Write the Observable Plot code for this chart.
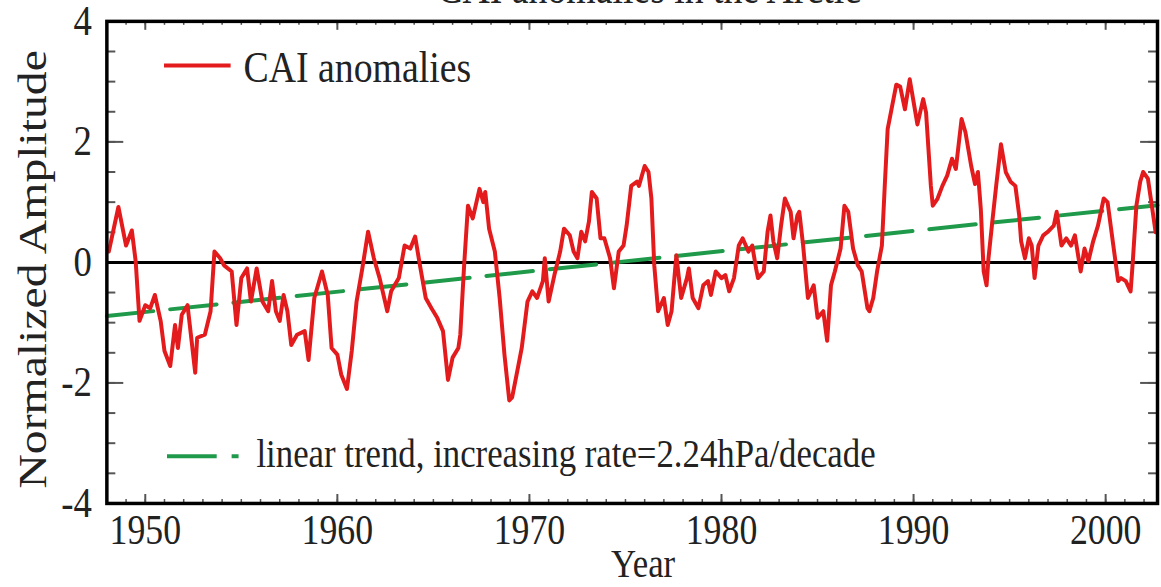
<!DOCTYPE html>
<html><head><meta charset="utf-8">
<script src="https://cdn.jsdelivr.net/npm/d3@7"></script>
<script src="https://cdn.jsdelivr.net/npm/@observablehq/plot@0.6"></script>
<style>
html,body{margin:0;padding:0;background:#fff;overflow:hidden;}
#chart{position:relative;width:1161px;height:587px;overflow:hidden;}
</style></head><body><div id="chart"></div>
<script>
// ---- data ----
const years = [
1948.1,1948.6,1949.0,1949.3,1949.5,1949.7,1950.0,1950.26,1950.5,1950.8,
1951.0,1951.3,1951.55,1951.7,1951.9,1952.2,1952.6,1952.7,1953.1,1953.4,
1953.6,1953.9,1954.1,1954.5,1954.75,1955.0,1955.3,1955.5,1955.8,1956.1,
1956.4,1956.6,1956.8,1957.0,1957.2,1957.4,1957.6,1957.9,1958.3,1958.5,
1958.8,1959.2,1959.5,1959.7,1960.0,1960.2,1960.5,1960.75,1961.0,1961.3,
1961.6,1961.9,1962.2,1962.6,1962.8,1963.2,1963.5,1963.8,1964.05,1964.3,
1964.6,1964.9,1965.2,1965.5,1965.76,1966.0,1966.3,1966.4,1966.6,1966.8,
1967.05,1967.4,1967.6,1967.7,1967.9,1968.2,1968.45,1968.7,1968.95,1969.1,
1969.4,1969.6,1969.9,1970.15,1970.4,1970.7,1970.8,1971.0,1971.3,1971.6,
1971.8,1972.1,1972.3,1972.5,1972.7,1972.9,1973.1,1973.25,1973.5,1973.7,
1973.9,1974.2,1974.4,1974.65,1974.9,1975.06,1975.3,1975.6,1975.7,1976.0,
1976.2,1976.35,1976.5,1976.7,1977.0,1977.2,1977.4,1977.65,1977.9,1978.2,
1978.3,1978.5,1978.8,1979.05,1979.3,1979.45,1979.7,1980.0,1980.2,1980.4,
1980.65,1980.9,1981.1,1981.4,1981.6,1981.8,1981.9,1982.2,1982.4,1982.55,
1982.7,1982.9,1983.1,1983.3,1983.6,1983.75,1983.95,1984.05,1984.25,1984.5,
1984.8,1985.0,1985.3,1985.5,1985.7,1985.9,1986.2,1986.4,1986.6,1986.85,
1987.1,1987.3,1987.6,1987.7,1987.9,1988.1,1988.35,1988.5,1988.65,1988.85,
1989.1,1989.3,1989.55,1989.8,1989.95,1990.2,1990.5,1990.65,1990.9,1991.0,
1991.25,1991.5,1991.75,1992.0,1992.2,1992.5,1992.7,1993.0,1993.2,1993.35,
1993.5,1993.65,1993.8,1993.9,1994.1,1994.3,1994.55,1994.8,1995.05,1995.3,
1995.5,1995.6,1995.8,1996.0,1996.15,1996.3,1996.5,1996.75,1997.0,1997.3,
1997.45,1997.7,1997.95,1998.2,1998.4,1998.7,1998.9,1999.1,1999.35,1999.6,
1999.9,2000.1,2000.4,2000.65,2000.8,2001.05,2001.3,2001.4,2001.6,2001.8,
2001.95,2002.2,2002.45,2002.6
];
const cai = [
0.18,0.92,0.28,0.53,0.02,-0.97,-0.71,-0.76,-0.54,-0.97,
-1.47,-1.72,-1.04,-1.42,-0.87,-0.71,-1.83,-1.25,-1.2,-0.81,
0.18,0.07,-0.05,-0.15,-1.04,-0.26,-0.1,-0.65,-0.1,-0.65,
-0.81,-0.31,-0.81,-0.97,-0.54,-0.81,-1.37,-1.2,-1.14,-1.62,
-0.59,-0.15,-0.54,-1.42,-1.53,-1.86,-2.1,-1.47,-0.65,-0.1,
0.51,0.07,-0.26,-0.81,-0.48,-0.26,0.28,0.23,0.43,-0.05,
-0.59,-0.76,-0.92,-1.14,-1.95,-1.58,-1.42,-1.2,-0.05,0.94,
0.73,1.22,1.0,1.17,0.56,0.18,-0.59,-1.53,-2.29,-2.24,
-1.75,-1.42,-0.65,-0.48,-0.59,-0.31,0.07,-0.65,-0.21,0.18,
0.56,0.45,0.18,0.07,0.51,0.35,0.68,1.17,1.06,0.4,
0.4,0.07,-0.43,0.18,0.28,0.61,1.27,1.34,1.27,1.6,
1.5,1.06,-0.05,-0.81,-0.59,-1.04,-0.81,0.12,-0.59,-0.26,
-0.1,-0.59,-0.76,-0.38,-0.31,-0.54,-0.15,-0.26,-0.21,-0.48,
-0.26,0.28,0.4,0.18,0.28,-0.1,-0.26,-0.15,0.51,0.78,
0.35,0.07,0.61,1.06,0.84,0.4,0.78,0.84,0.28,-0.59,
-0.38,-0.92,-0.81,-1.3,-0.38,-0.15,0.23,0.94,0.84,0.23,
-0.05,-0.15,-0.76,-0.81,-0.59,-0.15,0.28,1.27,2.21,2.54,
2.95,2.92,2.54,3.04,2.76,2.29,2.71,2.49,1.27,0.94,
1.06,1.27,1.44,1.72,1.55,2.38,2.16,1.6,1.3,1.5,
0.89,-0.15,-0.38,0.07,0.68,1.27,1.96,1.5,1.34,1.27,
0.78,0.35,0.07,0.4,0.28,-0.26,0.28,0.45,0.51,0.61,
0.84,0.28,0.4,0.28,0.45,-0.15,0.23,0.02,0.35,0.61,
1.06,1.0,0.28,-0.31,-0.26,-0.31,-0.48,-0.05,0.94,1.34,
1.5,1.39,0.84,0.5
];
const trendYears = [1948, 2002.7];
const trendValues = [-0.89, 0.95];
const xTickYears = [1950, 1960, 1970, 1980, 1990, 2000];
const yTickValues = [-4, -2, 0, 2, 4];
const xMinorYears = d3.range(1948, 2003, 1);
const yMinorValues = d3.range(-4, 4.01, 0.5);
const titleText = "CAI anomalies in the Arctic";
const xLabel = "Year";
const yLabel = "Normalized Amplitude";
const legendLabels = ["CAI anomalies", "linear trend, increasing rate=2.24hPa/decade"];

// ---- chart ----
const W = 1168, H = 587, mL = 107, mR = 4, mT = 21, mB = 81;
const innerW = W - mL - mR, innerH = H - mT - mB;
const FONT = "'Liberation Serif', 'Times New Roman', serif";
const RED = "#e31b1c", GREEN = "#1f9a4a", TICK = "#555";
const data = years.map((y, i) => ({year: y, value: cai[i]}));
const trend = trendYears.map((y, i) => ({year: y, value: trendValues[i]}));

const svg = Plot.plot({
  width: W, height: H,
  marginLeft: mL, marginRight: mR, marginTop: mT, marginBottom: mB,
  style: {fontFamily: FONT, color: "#222", background: "#fff", overflow: "visible"},
  x: {domain: [1948, 2002.7]},
  y: {domain: [-4, 4]},
  marks: [
    Plot.tickX(xMinorYears, {x: d => d, insetTop: innerH - 4, stroke: TICK, strokeWidth: 1.5}),
    Plot.tickX(xMinorYears, {x: d => d, insetBottom: innerH - 4, stroke: TICK, strokeWidth: 1.5}),
    Plot.tickX(xTickYears, {x: d => d, insetTop: innerH - 9, stroke: TICK, strokeWidth: 2}),
    Plot.tickX(xTickYears, {x: d => d, insetBottom: innerH - 9, stroke: TICK, strokeWidth: 2}),
    Plot.tickY(yMinorValues, {y: d => d, insetRight: innerW - 9, stroke: TICK, strokeWidth: 2}),
    Plot.tickY(yMinorValues, {y: d => d, insetLeft: innerW - 9, stroke: TICK, strokeWidth: 2}),
    Plot.tickY(yTickValues, {y: d => d, insetRight: innerW - 17, stroke: TICK, strokeWidth: 2}),
    Plot.tickY(yTickValues, {y: d => d, insetLeft: innerW - 17, stroke: TICK, strokeWidth: 2}),
    Plot.ruleY([0], {stroke: "#000", strokeWidth: 3}),
    Plot.line(trend, {x: "year", y: "value", stroke: GREEN, strokeWidth: 4, strokeDasharray: "47,17"}),
    Plot.line(data, {x: "year", y: "value", stroke: RED, strokeWidth: 4, strokeLinejoin: "round"}),
    Plot.frame({stroke: "#000", strokeWidth: 3.5}),
    Plot.axisX(xTickYears, {tickSize: 0, tickPadding: 11, fontSize: 36, tickFormat: d => String(d), label: null}),
    Plot.axisY(yTickValues, {tickSize: 0, tickPadding: 15, fontSize: 37, tickFormat: d => String(d), label: null})
  ]
});

// stretch axis text vertically like the reference
svg.querySelectorAll("text").forEach(t => {
  const tr = t.getAttribute("transform") || "";
  t.setAttribute("transform", tr + " scale(1,1.15)");
});

const s = d3.select(svg);
const g = s.append("g").attr("font-family", FONT).attr("fill", "#222");
function addText(txt, x, y, size, anchor, tr) {
  g.append("text").text(txt).attr("font-size", size).attr("text-anchor", anchor)
    .attr("transform", `translate(${x},${y}) ${tr}`);
}
// title (cut at top as in reference)
addText(titleText, 653, 3, 38, "middle", "scale(1,1.15)");
// axis labels
addText(xLabel, 647, 580, 35, "middle", "scale(1,1.15)");
addText(yLabel, 46, 271, 40, "middle", "rotate(-90) scale(1.2,1)");
// legend
g.append("line").attr("x1", 165).attr("x2", 232).attr("y1", 66).attr("y2", 66)
  .attr("stroke", RED).attr("stroke-width", 4);
addText(legendLabels[0], 245, 82, 38, "start", "scale(1,1.15)");
g.append("line").attr("x1", 168).attr("x2", 218).attr("y1", 459).attr("y2", 459)
  .attr("stroke", GREEN).attr("stroke-width", 4);
g.append("line").attr("x1", 233).attr("x2", 240).attr("y1", 459).attr("y2", 459)
  .attr("stroke", GREEN).attr("stroke-width", 4);
addText(legendLabels[1], 258, 470, 35, "start", "scale(1,1.15)");

document.getElementById("chart").appendChild(svg);
</script>
</body></html>
